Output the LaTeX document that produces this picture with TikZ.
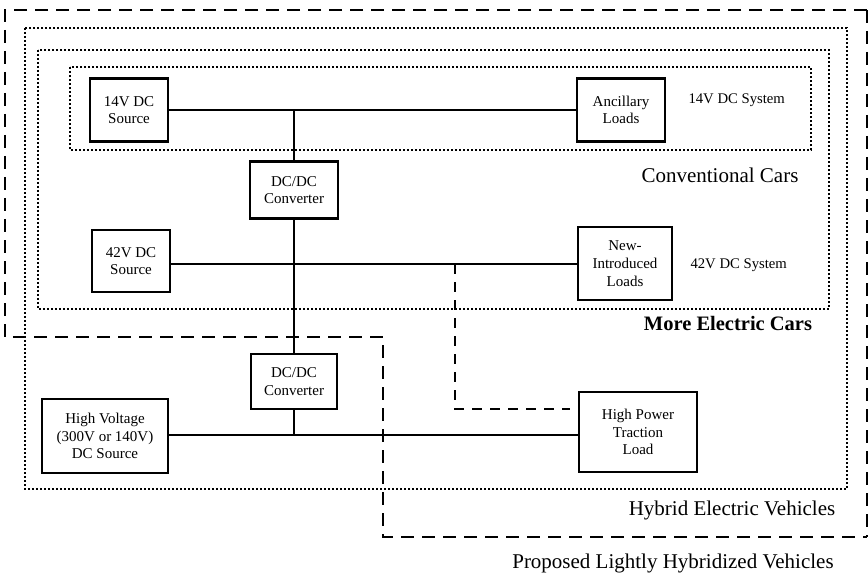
\documentclass[tikz,border=0pt]{standalone}
\usepackage{fontspec}
\setmainfont{Liberation Serif}
\begin{document}
\begin{tikzpicture}[x=1pt,y=-1pt,
  unit/.style={draw,line width=2.4pt,align=center,inner sep=2pt,
    font=\fontsize{15}{17.7}\selectfont},
  bus/.style={line width=2pt},
  region/.style={line width=1.6pt,dash pattern=on 1.6pt off 2.4pt},
  fleet/.style={line width=2.5pt,dash pattern=on 13pt off 8pt},
  link/.style={line width=1.4pt,dash pattern=on 10pt off 8pt},
  tag/.style={font=\fontsize{14.7}{17}\selectfont,anchor=west},
  caption/.style={font=\fontsize{21}{25}\selectfont}]
\useasboundingbox (0,0) rectangle (868,575);

% nested vehicle-class regions
\draw[fleet] (867,10) -- (5,10) -- (5,337) -- (383,337) -- (383,537) -- (867,537);
\draw[fleet] (867,10) -- (867,537);
\draw[region] (25,28) rectangle (847,489);
\draw[region] (38,50) rectangle (829,309);
\draw[region] (70,67) rectangle (811,150);

% units
\node[unit,minimum width=78pt,minimum height=63pt] (src14) at (129,110) {14V DC\\Source};
\node[unit,minimum width=88pt,minimum height=63pt] (anc) at (621,110) {Ancillary\\Loads};
\node[unit,minimum width=88pt,minimum height=57pt] (conv1) at (294,190) {DC/DC\\Converter};
\node[unit,minimum width=78pt,minimum height=62pt] (src42) at (131,261) {42V DC\\Source};
\node[unit,minimum width=94pt,minimum height=73pt] (newl) at (625,263.5) {New-\\Introduced\\Loads};
\node[unit,minimum width=86pt,minimum height=55pt] (conv2) at (294,381.5) {DC/DC\\Converter};
\node[unit,minimum width=126pt,minimum height=74pt] (hv) at (105,436) {High Voltage\\(300V or 140V)\\DC Source};
\node[unit,minimum width=118pt,minimum height=80pt] (trac) at (638,432) {High Power\\Traction\\Load};

% bus junctions
\coordinate (j14) at (294,110);
\coordinate (j42) at (294,264);
\coordinate (jhv) at (294,435);
\coordinate (tap) at (455,264);
\coordinate (tend) at (570,409);

% buses and converter feeds
\draw[bus] (src14.east) -- (anc.west);
\draw[bus] (src42.east |- j42) -- (newl.west |- j42);
\draw[bus] (hv.east |- jhv) -- (trac.west |- jhv);
\draw[bus] (j14) -- (conv1.north);
\draw[bus] (conv1.south) -- (j42) -- (conv2.north);
\draw[bus] (conv2.south) -- (jhv);
\draw[link] (tap) |- (tend);

% labels
\node[tag] (l14) at (685,100) {14V DC System};
\node[tag] (l42) at (687,265) {42V DC System};
\node[caption] (lconv) at (720,175) {Conventional Cars};
\node[caption,font=\fontsize{20.5}{24}\selectfont\bfseries] (lmore) at (728,323) {More Electric Cars};
\node[caption] (lhev) at (732,510) {Hybrid Electric Vehicles};
\node[caption] (lprop) at (673,563) {Proposed Lightly Hybridized Vehicles};
\end{tikzpicture}
\end{document}
